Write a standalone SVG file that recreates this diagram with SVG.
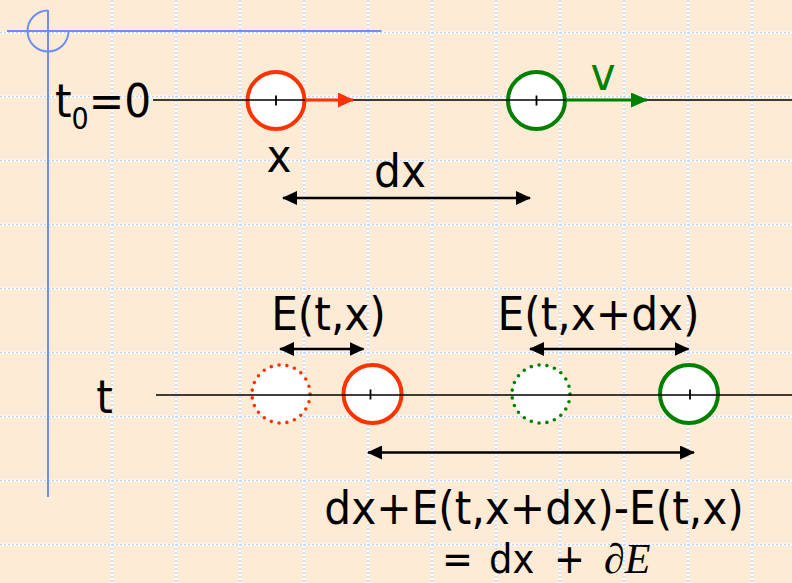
<svg xmlns="http://www.w3.org/2000/svg" width="792" height="583" viewBox="0 0 792 583">
<defs>
<style>
.grid-w{stroke:#ffffff;stroke-width:2;fill:none}
.grid-b{stroke:#c3d3f5;stroke-width:1.5;stroke-dasharray:2 2;fill:none}
.blue{stroke:#6f8ef2;stroke-width:2;fill:none}
.axis{stroke:#000;stroke-width:1.6;fill:none}
.tick{stroke:#000;stroke-width:1.8}
.pr{fill:#fff;stroke:#ff3300;stroke-width:4}
.pg{fill:#fff;stroke:#008000;stroke-width:4}
.dr{fill:#fff;stroke:#ff3300;stroke-width:3.6;stroke-dasharray:0 1;stroke-linecap:round}
.dg{fill:#fff;stroke:#008000;stroke-width:3.6;stroke-dasharray:0 1;stroke-linecap:round}
.dim{stroke:#000;stroke-width:2.5;fill:none;marker-start:url(#ak);marker-end:url(#ak)}
.t{font-family:"DejaVu Sans Condensed","DejaVu Sans","Liberation Sans",sans-serif;font-stretch:condensed;font-size:47px;fill:#000}
</style>
<marker id="ak" viewBox="0 0 15 14" refX="14" refY="7" markerWidth="15" markerHeight="14" markerUnits="userSpaceOnUse" orient="auto-start-reverse"><path d="M0,0 L15,7 L0,14 z" fill="#000"/></marker>
<marker id="ar" viewBox="0 0 16 15" refX="15" refY="7.5" markerWidth="16" markerHeight="15" markerUnits="userSpaceOnUse" orient="auto"><path d="M0,0 L16,7.5 L0,15 z" fill="#ff3300"/></marker>
<marker id="ag" viewBox="0 0 17 15" refX="16" refY="7.5" markerWidth="17" markerHeight="15" markerUnits="userSpaceOnUse" orient="auto"><path d="M0,0 L17,7.5 L0,15 z" fill="#008000"/></marker>
</defs>
<rect width="792" height="583" fill="#fdebd6"/>
<g id="grid">
<path class="grid-w" d="M112,0V583M176,0V583M240,0V583M304,0V583M368,0V583M432,0V583M496,0V583M560,0V583M624,0V583M688,0V583M752,0V583M0,32.5H792M0,96.5H792M0,160.5H792M0,224.5H792M0,288.5H792M0,352.5H792M0,416.5H792M0,480.5H792M0,544.5H792"/>
<path class="grid-b" d="M112,0V583M176,0V583M240,0V583M304,0V583M368,0V583M432,0V583M496,0V583M560,0V583M624,0V583M688,0V583M752,0V583M0,32.5H792M0,96.5H792M0,160.5H792M0,224.5H792M0,288.5H792M0,352.5H792M0,416.5H792M0,480.5H792M0,544.5H792"/>
</g>
<g id="frame">
<path class="blue" d="M7,31H381.5M48,10V497"/>
<path class="blue" d="M48,10.5A20.5,20.5 0 1,0 68.5,31"/>
</g>
<g id="particle-red-t0"><circle class="pr" cx="276" cy="100.5" r="28.5"/></g>
<g id="particle-green-t0"><circle class="pg" cx="536.5" cy="100.5" r="28.5"/></g>
<g id="particle-red-ghost"><circle class="dr" cx="281" cy="394" r="29" pathLength="23"/></g>
<g id="particle-red-t"><circle class="pr" cx="372.5" cy="394" r="29"/></g>
<g id="particle-green-ghost"><circle class="dg" cx="541" cy="394" r="29" pathLength="23"/></g>
<g id="particle-green-t"><circle class="pg" cx="689" cy="394" r="29"/></g>
<g id="connectors">
<path class="axis" d="M153,100H792M156,395H792"/>
<path class="tick" d="M276,95.5V105.5M536.5,95.5V105.5M370.5,389.5V399.5M690,389.5V399.5"/>
<path d="M305,100H353" stroke="#ff3300" stroke-width="3" fill="none" marker-end="url(#ar)"/>
<path d="M566,100H647" stroke="#008000" stroke-width="3" fill="none" marker-end="url(#ag)"/>
<path class="dim" d="M283,198H530"/>
<path class="dim" d="M280,349H363.5"/>
<path class="dim" d="M530,349H688.5"/>
<path class="dim" d="M368,452.5H694"/>
</g>
<g id="labels">
<text class="t" x="55" y="117">t<tspan font-size="30" dy="12">0</tspan><tspan dy="-12">=0</tspan></text>
<text class="t" x="279" y="172" text-anchor="middle">x</text>
<text class="t" x="400" y="187" text-anchor="middle">dx</text>
<text class="t" x="603" y="90" text-anchor="middle" style="fill:#008000">v</text>
<text class="t" x="104.5" y="412.5" text-anchor="middle">t</text>
<text class="t" x="328.5" y="329.5" text-anchor="middle">E(t,x)</text>
<text class="t" x="598.5" y="329.5" text-anchor="middle">E(t,x+dx)</text>
<text class="t" x="534" y="524" text-anchor="middle">dx+E(t,x+dx)-E(t,x)</text>
<text class="t" y="573" style="font-size:41px"><tspan x="442">=</tspan><tspan x="489">dx</tspan><tspan x="554">+</tspan><tspan x="604" font-family="'Liberation Serif',serif" font-style="italic" font-size="42">∂E</tspan></text>
</g>
</svg>
